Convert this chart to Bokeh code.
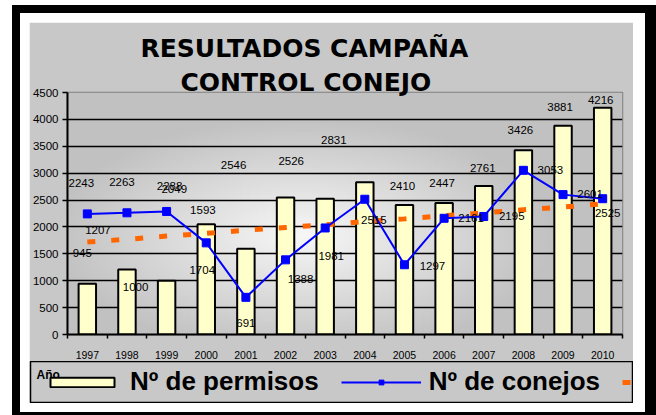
import numpy as np
from bokeh.plotting import figure
from bokeh.layouts import column
from bokeh.models import Range1d, FixedTicker, Legend, LegendItem, Title, Label
from bokeh.embed import file_html
from bokeh.resources import INLINE
from bokeh.core.properties import value

# ---------------- data ----------------
years = [1997, 1998, 1999, 2000, 2001, 2002, 2003, 2004, 2005, 2006, 2007, 2008, 2009, 2010]
year_labels = ["1997", "1998", "1999", "2000", "2001", "2002", "2003",
               "2004", "2005", "2006", "2007", "2008", "2009", "2010"]
permisos = [945, 1207, 1000, 2049, 1593, 2546, 2526, 2831, 2410, 2447, 2761, 3426, 3881, 4216]
conejos = [2243, 2263, 2288, 1704, 691, 1388, 1981, 2515, 1297, 2161, 2195, 3053, 2601, 2525]
tendencia = [1720, 1770, 1830, 1880, 1940, 1990, 2040, 2100, 2150, 2210, 2260, 2320, 2370, 2430]
y_ticks = [0, 500, 1000, 1500, 2000, 2500, 3000, 3500, 4000, 4500]

# label placement offsets (screen px) as in the original (Excel) picture
perm_dx = [-5, -29, -31, -32, -43, -52, -34, -31, -2, -2, -1, -3, -3, -2]
perm_dy = [-31, -40, 6, -35, -39, -33, -38, -42, -19, -20, -18, -20, -19, -8]
con_dx = [-6, -5, 3, -4, 0, 15, 6, 9, 28, 27, 28, 27, 27, 5]
con_dy = [-31, -31, -25, 27, 26, 19, 28, 21, 1, 0, 0, 0, -1, 14]

GRAY = "#c8c8c8"

# ---------------- main chart ----------------
p = figure(width=604, height=339,
           x_range=Range1d(1996.5, 2010.5), y_range=Range1d(0, 4500),
           output_backend="svg", toolbar_location=None,
           min_border_left=38, min_border_right=11, min_border_top=70, min_border_bottom=24,
           border_fill_color=GRAY, background_fill_color="#d8d8d8",
           outline_line_color="#808080", outline_line_width=1.5)
p.title.text = ""
p.frame_align = False

# background gradient of the plot area (styling only)
nx, ny = 280, 90
gx = np.linspace(0, 555, nx)[None, :]
gy = np.linspace(245, 0, ny)[:, None]
d = np.sqrt(((gx - 235) / 250.0) ** 2 + ((gy - 145) / 120.0) ** 2)
L = (0.97 - 0.21 * np.clip(d, 0, 1)) * 255
img = np.empty((ny, nx), dtype=np.uint32)
view = img.view(dtype=np.uint8).reshape((ny, nx, 4))
view[:, :, 0] = L.astype(np.uint8)
view[:, :, 1] = L.astype(np.uint8)
view[:, :, 2] = L.astype(np.uint8)
view[:, :, 3] = 255
p.image_rgba(image=[img], x=1996.5, y=0, dw=14, dh=4500, level="image")

# axes
p.xaxis.ticker = FixedTicker(ticks=years, minor_ticks=[y - 0.5 for y in years] + [years[-1] + 0.5])
p.xaxis.major_label_overrides = dict(zip(years, year_labels))
p.xaxis.major_tick_out = 0
p.xaxis.major_tick_in = 0
p.xaxis.minor_tick_out = 4
p.xaxis.minor_tick_in = 0
p.xaxis.minor_tick_line_color = "black"
p.xaxis.minor_tick_line_width = 1.5
p.xaxis.major_label_standoff = 12
p.xaxis.major_label_text_font_size = "10.5px"

p.yaxis.ticker = FixedTicker(ticks=y_ticks)
p.yaxis.major_tick_out = 5
p.yaxis.major_tick_in = 0
p.yaxis.major_tick_line_width = 1.5
p.yaxis.minor_tick_line_color = None
p.yaxis.major_label_standoff = 4
p.yaxis.major_label_text_font_size = "11.5px"

for ax in (p.xaxis, p.yaxis):
    ax.axis_line_color = "black"
    ax.axis_line_width = 2
    ax.major_tick_line_color = "black"
    ax.major_label_text_font = "Liberation Sans"
    ax.major_label_text_color = "black"

p.xgrid.visible = False
p.ygrid.ticker = FixedTicker(ticks=y_ticks)
p.ygrid.grid_line_color = "black"
p.ygrid.grid_line_width = 1.3

# series
bar_style = dict(fill_color="#ffffcc", line_color="black", line_width=2)
trend_style = dict(line_color="#ff6600", line_width=5, line_dash="8 16")
line_style = dict(line_color="#0000ff", line_width=2)
mark_style = dict(marker="square", size=8, fill_color="#0000ff", line_color="#0000ff")

p.vbar(x=years, top=permisos, width=0.44, **bar_style)
p.line(years, tendencia, **trend_style)
p.line(years, conejos, **line_style)
p.scatter(years, conejos, **mark_style)

# data labels
p.text(x=years, y=permisos, text=[str(v) for v in permisos], x_offset=perm_dx, y_offset=perm_dy,
       text_font=value("Liberation Sans"), text_font_size="11.5px", text_color="black",
       text_align="center", text_baseline="middle")
p.text(x=years, y=conejos, text=[str(v) for v in conejos], x_offset=con_dx, y_offset=con_dy,
       text_font=value("Liberation Sans"), text_font_size="11.5px", text_color="black",
       text_align="center", text_baseline="middle")

# title (two lines, in the panel above the plot area)
title_style = dict(text_font="DejaVu Sans", text_font_style="bold", text_font_size="25px",
                   text_color="black", align="left", vertical_align="bottom")
p.add_layout(Title(text="CONTROL CONEJO", offset=113, standoff=-8, **title_style), "above")
p.add_layout(Title(text="RESULTADOS CAMPAÑA", offset=73, standoff=14, **title_style), "above")

# ---------------- legend strip ----------------
p2 = figure(width=604, height=42, x_range=Range1d(0, 603), y_range=Range1d(0, 41),
            output_backend="svg", toolbar_location=None,
            x_axis_location=None, y_axis_location=None,
            min_border_left=1, min_border_right=0, min_border_top=0, min_border_bottom=1,
            border_fill_color=GRAY, background_fill_color=GRAY,
            outline_line_color="black", outline_line_width=1.5)
p2.title.text = ""
p2.grid.visible = False
p2.frame_align = False

# legend proxies: the same series, lying outside this strip's ranges (only their styles show)
lb = p2.vbar(x=years, top=permisos, width=0.44, **bar_style)
lt = p2.line(years, tendencia, **trend_style)
ll = p2.line(years, conejos, **line_style)
lm = p2.scatter(years, conejos, **mark_style)

# axis title "Año", partly hidden behind the first legend swatch
p2.add_layout(Label(x=6, y=28, text="Año", text_font="Liberation Sans", text_font_style="bold",
                    text_font_size="12px", text_align="left", text_baseline="middle",
                    text_color="black"))

legend = Legend(items=[LegendItem(label="Nº de permisos", renderers=[lb]),
                       LegendItem(label="Nº de conejos", renderers=[ll, lm]),
                       LegendItem(label=" ", renderers=[lt])],
                location=(7, 0), orientation="horizontal",
                padding=5, spacing=22, glyph_width=80, glyph_height=12, label_standoff=8,
                label_text_font="Liberation Sans", label_text_font_style="bold",
                label_text_font_size="26px", label_text_color="black",
                background_fill_alpha=0, border_line_alpha=0, margin=0)
p2.add_layout(legend)

layout = column(p, p2, spacing=0)
layout.margin = (22, 0, 0, 29)
layout.styles = {"box-shadow": "0 0 0 9px white, 3px 0 0 9px white, 0 0 0 17px black, 6px 0 0 17px black"}

open("out.html", "w", encoding="utf-8").write(file_html(layout, INLINE))
